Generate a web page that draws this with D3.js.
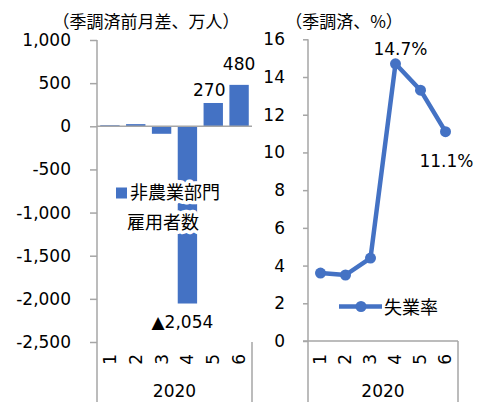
<!DOCTYPE html>
<html><head><meta charset="utf-8">
<script src="https://cdn.jsdelivr.net/npm/d3@7"></script>
<style>
body{margin:0;background:#fff;}
text{font-family:"DejaVu Sans","Noto Sans CJK JP",sans-serif;fill:#000;}
.cjk{font-family:"Noto Sans CJK JP","DejaVu Sans",sans-serif;}
</style></head>
<body>
<svg id="c" width="480" height="402"></svg>
<script>
const months = ["1","2","3","4","5","6"];
const yearLabel = "2020";
const payrolls = [12, 25, -87, -2054, 270, 480];
const unemployment = [3.6, 3.5, 4.4, 14.7, 13.3, 11.1];
const leftTicks = [1000, 500, 0, -500, -1000, -1500, -2000, -2500];
const rightTicks = [0, 2, 4, 6, 8, 10, 12, 14, 16];
const leftTitle = "（季調済前月差、万人）";
const rightTitle = "（季調済、%）";
const barLegend = ["非農業部門", "雇用者数"];
const lineLegend = "失業率";

const svg = d3.select("#c");
const blue = "#4472C4", gray = "#A6A6A6";
const fmt = v => d3.format(",")(v).replace("−","-");

// ---------- Left chart ----------
const xL = d3.scaleBand().domain(months).range([97, 252]).paddingInner(0.25).paddingOuter(0.125);
const yL = d3.scaleLinear().domain([-2500, 1000]).range([342, 40]);

svg.append("text").attr("class","cjk").attr("x",146).attr("y",28)
  .attr("text-anchor","middle").attr("font-size",17).text(leftTitle);

const axL = svg.append("g").attr("transform","translate(97,0)")
  .call(d3.axisLeft(yL).tickValues(leftTicks).tickSize(7).tickPadding(19).tickFormat(fmt));
axL.select(".domain").remove();
axL.selectAll(".tick line").attr("stroke",gray).attr("stroke-width",1.5);
axL.selectAll(".tick text").attr("font-size",17).attr("fill","#000")
  .style("font-family","DejaVu Sans");

svg.append("g").selectAll("rect").data(payrolls).join("rect")
  .attr("x",(d,i)=>xL(months[i])).attr("width",xL.bandwidth())
  .attr("y",d=>yL(Math.max(0,d))).attr("height",d=>Math.abs(yL(d)-yL(0)))
  .attr("fill",blue);

// axis lines
svg.append("line").attr("x1",97).attr("x2",97).attr("y1",yL(1000)).attr("y2",402)
  .attr("stroke",gray).attr("stroke-width",1.5);
svg.append("line").attr("x1",97).attr("x2",252).attr("y1",yL(0)).attr("y2",yL(0))
  .attr("stroke",gray).attr("stroke-width",1.5);
svg.append("line").attr("x1",252).attr("x2",252).attr("y1",yL(-2500)).attr("y2",402)
  .attr("stroke",gray).attr("stroke-width",1.5);

// bar labels
svg.append("text").attr("x",xL("5")+xL.bandwidth()/2-4).attr("y",yL(payrolls[4])-6.5)
  .attr("text-anchor","middle").attr("font-size",17).text(fmt(payrolls[4]));
svg.append("text").attr("x",xL("6")+xL.bandwidth()/2).attr("y",yL(payrolls[5])-15)
  .attr("text-anchor","middle").attr("font-size",17).text(fmt(payrolls[5]));
svg.append("text").attr("x",xL("4")+xL.bandwidth()/2-5).attr("y",yL(payrolls[3])+24.5)
  .attr("text-anchor","middle").attr("font-size",17).text("▲"+fmt(Math.abs(payrolls[3])));

// category labels
svg.append("g").selectAll("text").data(months).join("text")
  .attr("transform",d=>`translate(${xL(d)+xL.bandwidth()/2},354) rotate(-90)`)
  .attr("text-anchor","end").attr("dy","0.35em").attr("font-size",17).text(d=>d);
svg.append("text").attr("x",174.5).attr("y",397).attr("text-anchor","middle")
  .attr("font-size",17).text(yearLabel);

// legend (bars)
svg.append("rect").attr("x",116).attr("y",187.5).attr("width",11).attr("height",11).attr("fill",blue);
svg.append("g").selectAll("text").data(barLegend).join("text").attr("class","cjk")
  .attr("x",(d,i)=>i===0?130:127).attr("y",(d,i)=>198.5+i*30)
  .attr("font-size",18)
  .attr("stroke","#fff").attr("stroke-width",7).attr("stroke-linejoin","round")
  .attr("paint-order","stroke").text(d=>d);

// ---------- Right chart ----------
const xR = d3.scaleBand().domain(months).range([308, 458]);
const yR = d3.scaleLinear().domain([0, 16]).range([341, 39.3]);

svg.append("text").attr("class","cjk").attr("x",344).attr("y",28)
  .attr("text-anchor","middle").attr("font-size",17).text(rightTitle);

const axR = svg.append("g").attr("transform","translate(308,0)")
  .call(d3.axisLeft(yR).tickValues(rightTicks).tickSize(5).tickPadding(18));
axR.select(".domain").remove();
axR.selectAll(".tick line").attr("stroke",gray).attr("stroke-width",1.5);
axR.selectAll(".tick text").attr("font-size",17).attr("fill","#000")
  .style("font-family","DejaVu Sans");

svg.append("line").attr("x1",308).attr("x2",308).attr("y1",yR(16)).attr("y2",402)
  .attr("stroke",gray).attr("stroke-width",1.5);
svg.append("line").attr("x1",303).attr("x2",458).attr("y1",yR(0)).attr("y2",yR(0))
  .attr("stroke",gray).attr("stroke-width",1.5);
svg.append("line").attr("x1",458).attr("x2",458).attr("y1",yR(0)).attr("y2",402)
  .attr("stroke",gray).attr("stroke-width",1.5);

const cxR = (d,i)=>xR(months[i])+xR.bandwidth()/2;
svg.append("path").datum(unemployment)
  .attr("d",d3.line().x(cxR).y(d=>yR(d)))
  .attr("fill","none").attr("stroke",blue).attr("stroke-width",4.5).attr("stroke-linejoin","round");
svg.append("g").selectAll("circle").data(unemployment).join("circle")
  .attr("cx",cxR).attr("cy",d=>yR(d)).attr("r",5.5).attr("fill",blue);

svg.append("text").attr("x",cxR(0,3)+5).attr("y",yR(unemployment[3])-9)
  .attr("text-anchor","middle").attr("font-size",17).text(unemployment[3].toFixed(1)+"%");
svg.append("text").attr("x",cxR(0,5)+1).attr("y",yR(unemployment[5])+35)
  .attr("text-anchor","middle").attr("font-size",17).text(unemployment[5].toFixed(1)+"%");

svg.append("g").selectAll("text").data(months).join("text")
  .attr("transform",d=>`translate(${xR(d)+xR.bandwidth()/2},354) rotate(-90)`)
  .attr("text-anchor","end").attr("dy","0.35em").attr("font-size",17).text(d=>d);
svg.append("text").attr("x",383).attr("y",397).attr("text-anchor","middle")
  .attr("font-size",17).text(yearLabel);

// legend (line)
svg.append("line").attr("x1",339).attr("x2",382).attr("y1",306.5).attr("y2",306.5)
  .attr("stroke",blue).attr("stroke-width",4.5);
svg.append("circle").attr("cx",361).attr("cy",306.5).attr("r",5.5).attr("fill",blue);
svg.append("text").attr("class","cjk").attr("x",384).attr("y",314)
  .attr("font-size",18).text(lineLegend);
</script>
</body></html>
